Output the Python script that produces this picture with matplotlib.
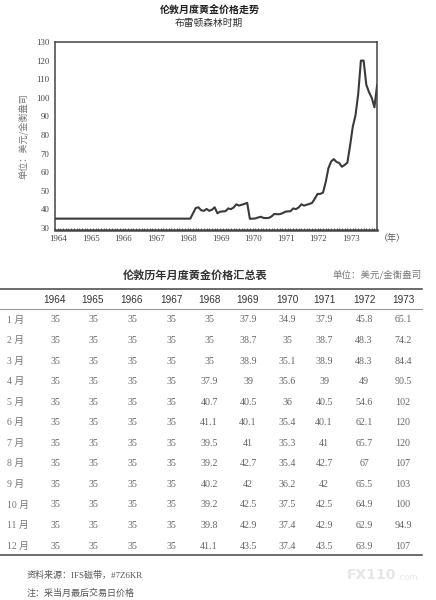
import numpy as np
import matplotlib
matplotlib.use('Agg')
import matplotlib.pyplot as plt
from matplotlib.ticker import MultipleLocator

CJK = ['Noto Sans CJK SC', 'DejaVu Sans']
SERIF = ['Liberation Serif', 'Noto Sans CJK SC']
SANS = ['Liberation Sans', 'Noto Sans CJK SC']

years = [1964, 1965, 1966, 1967, 1968, 1969, 1970, 1971, 1972, 1973]
months = ['1 月', '2 月', '3 月', '4 月', '5 月', '6 月',
          '7 月', '8 月', '9 月', '10 月', '11 月', '12 月']

# monthly prices per year (Jan..Dec)
p1964 = [35] * 12
p1965 = [35] * 12
p1966 = [35] * 12
p1967 = [35] * 12
p1968 = [35, 35, 35, 37.9, 40.7, 41.1, 39.5, 39.2, 40.2, 39.2, 39.8, 41.1]
p1969 = [37.9, 38.7, 38.9, 39, 40.5, 40.1, 41, 42.7, 42, 42.5, 42.9, 43.5]
p1970 = [34.9, 35, 35.1, 35.6, 36, 35.4, 35.3, 35.4, 36.2, 37.5, 37.4, 37.4]
p1971 = [37.9, 38.7, 38.9, 39, 40.5, 40.1, 41, 42.7, 42, 42.5, 42.9, 43.5]
p1972 = [45.8, 48.3, 48.3, 49, 54.6, 62.1, 65.7, 67, 65.5, 64.9, 62.9, 63.9]
p1973 = [65.1, 74.2, 84.4, 90.5, 102, 120, 120, 107, 103, 100, 94.9, 107]
prices = [p1964, p1965, p1966, p1967, p1968, p1969, p1970, p1971, p1972, p1973]

fig = plt.figure(figsize=(4.36, 6.0), dpi=100)

# ---- line chart ----
ax = fig.add_axes([0.126, 0.617, 0.739, 0.313])
series = np.concatenate([np.array(p, dtype=float) for p in prices])
x = np.arange(len(series))
ax.plot(x, series, color='#3a3a3a', lw=1.5)
ax.set_xlim(0, len(series) - 1)
ax.set_ylim(29, 130)
ax.set_yticks(np.arange(30, 131, 10))
ax.set_xticks(np.arange(len(years)) * 12 + 1.2)
ax.set_xticklabels([str(y) for y in years])
ax.xaxis.set_minor_locator(MultipleLocator(1))
ax.tick_params(axis='both', which='major', length=0, labelsize=6.3,
               colors='#444444', pad=4)
ax.tick_params(axis='x', which='minor', direction='in', length=1.8,
               width=0.6, color='#444444')
ax.tick_params(axis='y', which='minor', length=0)
for lab in ax.get_xticklabels() + ax.get_yticklabels():
    lab.set_family(SERIF)
for side, sp in ax.spines.items():
    sp.set_color('#444444')
    sp.set_linewidth(1.1)
ax.spines['bottom'].set_linewidth(1.8)
ax.set_ylabel('单位：美元/金衡盎司', family=CJK, fontsize=6.6,
              color='#777777', labelpad=6)
ax.text(1.005, -0.045, '（年）', transform=ax.transAxes, family=CJK,
        fontsize=6.5, color='#555555', ha='left', va='center')

fig.text(0.482, 0.983, '伦敦月度黄金价格走势', family=CJK, fontsize=7.2,
         fontweight='bold', ha='center', va='center', color='#222222')
fig.text(0.48, 0.962, '布雷顿森林时期', family=CJK, fontsize=7,
         ha='center', va='center', color='#333333')

# ---- table ----
def fy(py):
    return 1 - py / 600.0

def fx(px):
    return px / 436.0

fig.text(fx(195), fy(275), '伦敦历年月度黄金价格汇总表', family=CJK,
         fontsize=8, fontweight='bold', ha='center', va='center',
         color='#333333')
fig.text(fx(422), fy(275), '单位：美元/金衡盎司', family=CJK, fontsize=6.8,
         ha='right', va='center', color='#777777')

fig.add_artist(plt.Line2D([0, fx(422)], [fy(289), fy(289)],
                          color='#444444', lw=1.1))
fig.add_artist(plt.Line2D([0, fx(422)], [fy(309), fy(309)],
                          color='#999999', lw=0.8))
fig.add_artist(plt.Line2D([0, fx(422)], [fy(555), fy(555)],
                          color='#444444', lw=1.1))

col_x = [55, 93, 132, 171, 209, 248, 287, 324, 364, 403]
for cx, yr in zip(col_x, years):
    fig.text(fx(cx), fy(300), str(yr), family=SANS, fontsize=7.2,
             ha='center', va='center', color='#333333')

for r, mname in enumerate(months):
    ry = 320 + 20.55 * r
    fig.text(fx(7), fy(ry), mname, family=SERIF, fontsize=7,
             ha='left', va='center', color='#777777')
    for cx, p in zip(col_x, prices):
        v = p[r]
        txt = str(int(v)) if float(v).is_integer() else str(v)
        fig.text(fx(cx), fy(ry), txt, family=SERIF, fontsize=7.2,
                 ha='center', va='center', color='#666666')

fig.text(fx(27), fy(575), '资料来源：IFS磁带，#7Z6KR', family=SERIF,
         fontsize=6.5, ha='left', va='center', color='#555555')
fig.text(fx(27), fy(593), '注：采当月最后交易日价格', family=SERIF,
         fontsize=6.5, ha='left', va='center', color='#555555')
fig.text(fx(347), fy(575), 'FX110', family=['DejaVu Sans'], fontsize=10,
         fontweight='bold', ha='left', va='center', color='#e6e6e6')
fig.text(fx(397), fy(577), '.com', family=['DejaVu Sans'], fontsize=6,
         ha='left', va='center', color='#e6e6e6')

fig.savefig('out.png', dpi=100)
